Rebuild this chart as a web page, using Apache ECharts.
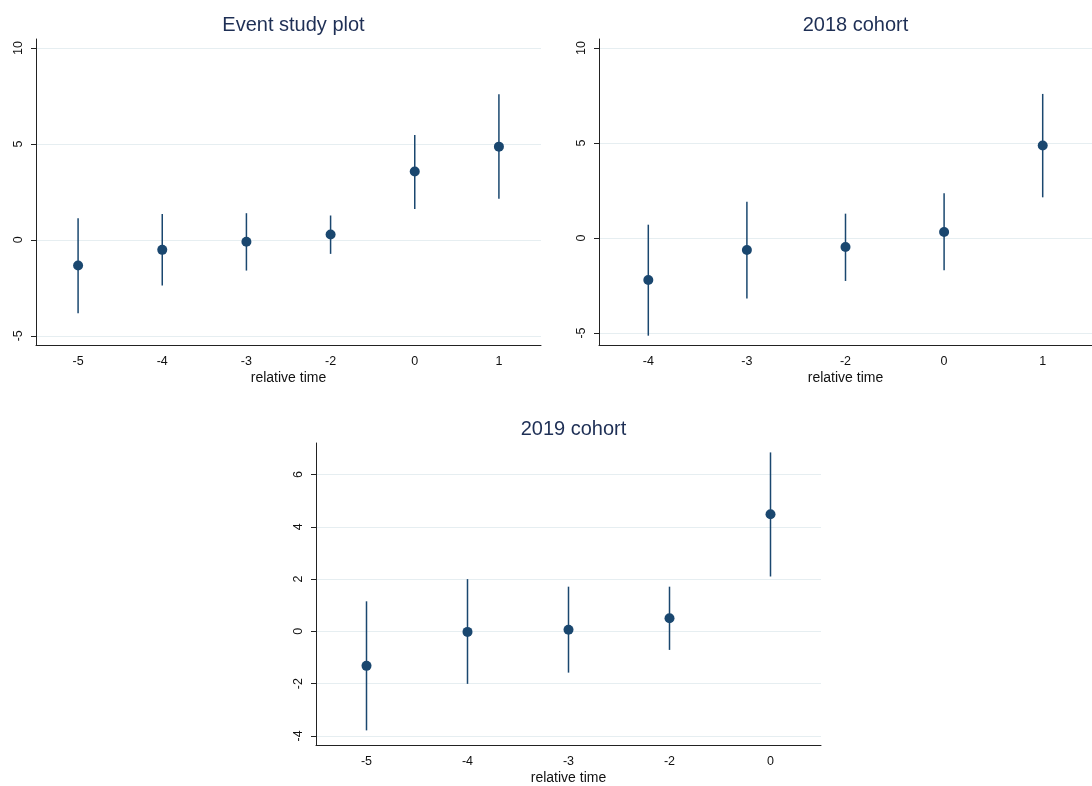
<!DOCTYPE html>
<html>
<head>
<meta charset="utf-8">
<script src="https://cdn.jsdelivr.net/npm/echarts@6/dist/echarts.min.js"></script>
<style>
html,body{margin:0;padding:0;background:#fff;}
#chart{width:1092px;height:786px;}
</style>
</head>
<body>
<div id="chart"></div>
<script>
// ---- data ----
const titles = ['Event study plot', '2018 cohort', '2019 cohort'];
const xName = 'relative time';

const p1Cats = ['-5', '-4', '-3', '-2', '0', '1'];
const p1Est = [-1.34, -0.52, -0.10, 0.28, 3.56, 4.86];
const p1Lo = [-3.82, -2.38, -1.60, -0.73, 1.61, 2.14];
const p1Hi = [1.13, 1.35, 1.39, 1.27, 5.47, 7.59];

const p2Cats = ['-4', '-3', '-2', '0', '1'];
const p2Est = [-2.21, -0.63, -0.47, 0.32, 4.87];
const p2Lo = [-5.14, -3.19, -2.26, -1.70, 2.14];
const p2Hi = [0.70, 1.91, 1.28, 2.35, 7.58];

const p3Cats = ['-5', '-4', '-3', '-2', '0'];
const p3Est = [-1.32, -0.02, 0.06, 0.50, 4.48];
const p3Lo = [-3.79, -2.01, -1.58, -0.71, 2.10];
const p3Hi = [1.15, 2.00, 1.71, 1.71, 6.85];

const yTicksTop = [-5, 0, 5, 10];
const yTicksBottom = [-4, -2, 0, 2, 4, 6];

// ---- styling ----
const FONT = '"Liberation Sans", Arial, Helvetica, sans-serif';
const NAVY = '#1a476f';
const TITLE_COLOR = '#1e2f55';
const GRID_COLOR = '#e6eef1';
const AXIS_COLOR = '#222';

const panels = [
  { cats: p1Cats, est: p1Est, lo: p1Lo, hi: p1Hi, ticks: yTicksTop, min: -5.48, max: 10.47,
    grid: { left: 36, top: 39, width: 505, height: 306 } },
  { cats: p2Cats, est: p2Est, lo: p2Lo, hi: p2Hi, ticks: yTicksTop, min: -5.63, max: 10.47,
    grid: { left: 599, top: 39, width: 503, height: 306 } },
  { cats: p3Cats, est: p3Est, lo: p3Lo, hi: p3Hi, ticks: yTicksBottom, min: -4.35, max: 7.21,
    grid: { left: 316, top: 443, width: 505, height: 306 } }
];

const option = {
  backgroundColor: '#fff',
  animation: false,
  title: [],
  grid: [],
  xAxis: [],
  yAxis: [],
  series: []
};

panels.forEach((p, i) => {
  option.grid.push(p.grid);
  option.title.push({
    text: titles[i],
    left: p.grid.left + p.grid.width / 2,
    top: p.grid.top - 29,
    textAlign: 'center',
    textStyle: { fontFamily: FONT, fontSize: 20, fontWeight: 'normal', color: TITLE_COLOR }
  });
  option.xAxis.push({
    type: 'category',
    gridIndex: i,
    data: p.cats,
    boundaryGap: true,
    name: xName,
    nameLocation: 'middle',
    nameGap: 26,
    nameTextStyle: { fontFamily: FONT, fontSize: 14, color: '#111' },
    axisLine: { onZero: false, lineStyle: { color: AXIS_COLOR, width: 1 } },
    axisTick: { alignWithLabel: true, length: 5, lineStyle: { color: AXIS_COLOR } },
    axisLabel: { fontFamily: FONT, fontSize: 12.5, color: '#111', margin: 10 },
    splitLine: { show: false }
  });
  option.yAxis.push({
    type: 'value',
    gridIndex: i,
    min: p.min,
    max: p.max,
    axisLine: { show: true, lineStyle: { color: AXIS_COLOR, width: 1 } },
    axisTick: { show: true, length: 5, customValues: p.ticks, lineStyle: { color: AXIS_COLOR } },
    axisLabel: { customValues: p.ticks, rotate: 90, fontFamily: FONT, fontSize: 12.5, color: '#111', margin: 11 },
    splitLine: { show: true, lineStyle: { color: GRID_COLOR, width: 1 } }
  });
  const ciData = p.cats.map((c, k) => [k, p.lo[k], p.hi[k]]);
  option.series.push({
    type: 'custom',
    xAxisIndex: i,
    yAxisIndex: i,
    data: ciData,
    z: 2,
    renderItem: function (params, api) {
      const a = api.coord([api.value(0), api.value(1)]);
      const b = api.coord([api.value(0), api.value(2)]);
      return {
        type: 'line',
        shape: { x1: a[0], y1: a[1], x2: b[0], y2: b[1] },
        style: { stroke: NAVY, lineWidth: 1.5 }
      };
    }
  });
  option.series.push({
    type: 'scatter',
    xAxisIndex: i,
    yAxisIndex: i,
    data: p.cats.map((c, k) => [k, p.est[k]]),
    symbol: 'circle',
    symbolSize: 10,
    itemStyle: { color: NAVY, opacity: 1 },
    z: 3
  });
});

const chart = echarts.init(document.getElementById('chart'), null, { renderer: 'canvas' });
chart.setOption(option);
</script>
</body>
</html>
